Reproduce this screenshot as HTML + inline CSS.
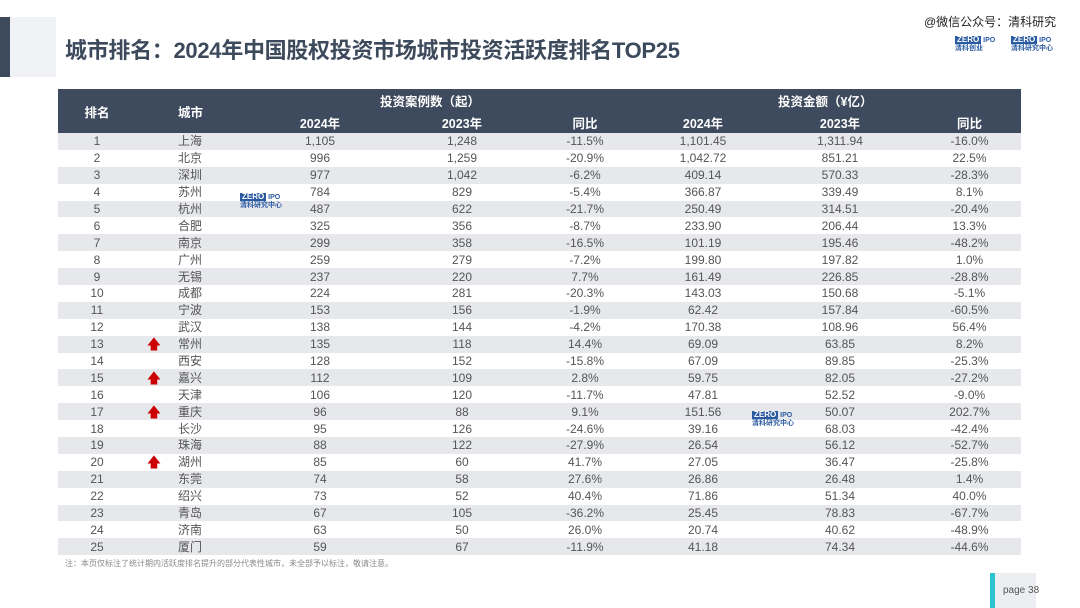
<!DOCTYPE html>
<html><head><meta charset="utf-8"><style>
body{margin:0;width:1080px;height:608px;background:#fff;position:relative;overflow:hidden;font-family:"Liberation Sans","Noto Sans CJK SC",sans-serif;}
.abs{position:absolute}
table{position:absolute;left:58px;top:89px;width:963px;border-collapse:collapse;table-layout:fixed}
td{height:16.9px;padding:0;font-size:12px;color:#555;text-align:center;line-height:16px}
tr.o td{background:#e6e8ec}
th{background:#3e4a5d;color:#fff;font-size:12.5px;font-weight:bold;padding:0;height:22px}
.up{color:#c00;font-size:14px}
.logo{position:absolute;font-size:7px;color:#2a5aa0;line-height:8px;font-weight:bold}
.logo b{display:inline-block;background:#2a5aa0;color:#fff;padding:0 2px;font-size:8px}
</style></head><body>
<div class="abs" style="left:0;top:17px;width:10px;height:60px;background:#3d4a5c"></div>
<div class="abs" style="left:10px;top:17px;width:46px;height:60px;background:#f1f2f5"></div>
<div class="abs" style="left:65px;top:33px;font-size:22px;font-weight:bold;color:#3d4a5c;letter-spacing:-0.3px">城市排名：2024年中国股权投资市场城市投资活跃度排名TOP25</div>
<div class="abs" style="left:924px;top:13px;font-size:12px;color:#222">@微信公众号：清科研究</div>
<div class="logo" style="left:955px;top:36px"><b>ZERO</b> IPO<br>清科创业</div>
<div class="logo" style="left:1011px;top:36px"><b>ZERO</b> IPO<br>清科研究中心</div>
<table>
<colgroup><col style="width:78px"><col style="width:106px"><col style="width:156px"><col style="width:128px"><col style="width:118px"><col style="width:118px"><col style="width:156px"><col style="width:103px"></colgroup>
<tr><th rowspan="2">排名</th><th rowspan="2" style="text-align:left;padding-left:42px">城市</th><th colspan="3" style="text-align:left;padding-left:138px">投资案例数（起）</th><th colspan="3" style="text-align:left;padding-left:134px">投资金额（¥亿）</th></tr>
<tr><th>2024年</th><th>2023年</th><th>同比</th><th>2024年</th><th>2023年</th><th>同比</th></tr>
</table>
<table id="b" style="top:133px"></table>
<div class="abs" style="left:65px;top:558px;font-size:8px;color:#888">注：本页仅标注了统计期内活跃度排名提升的部分代表性城市，未全部予以标注，敬请注意。</div>
<div class="logo" style="left:240px;top:193px"><b>ZERO</b> IPO<br>清科研究中心</div>
<div class="logo" style="left:752px;top:411px"><b>ZERO</b> IPO<br>清科研究中心</div>
<div class="abs" style="left:990px;top:573px;width:46px;height:35px;background:#eceef1"></div>
<div class="abs" style="left:990px;top:573px;width:5px;height:35px;background:#2cc3cc"></div>
<div class="abs" style="left:1003px;top:585px;font-size:10px;color:#555">page 38</div>
<script>
var d=`上海,1105,1248,-11.5%,1101.45,1311.94,-16.0%
北京,996,1259,-20.9%,1042.72,851.21,22.5%
深圳,977,1042,-6.2%,409.14,570.33,-28.3%
苏州,784,829,-5.4%,366.87,339.49,8.1%
杭州,487,622,-21.7%,250.49,314.51,-20.4%
合肥,325,356,-8.7%,233.90,206.44,13.3%
南京,299,358,-16.5%,101.19,195.46,-48.2%
广州,259,279,-7.2%,199.80,197.82,1.0%
无锡,237,220,7.7%,161.49,226.85,-28.8%
成都,224,281,-20.3%,143.03,150.68,-5.1%
宁波,153,156,-1.9%,62.42,157.84,-60.5%
武汉,138,144,-4.2%,170.38,108.96,56.4%
常州,135,118,14.4%,69.09,63.85,8.2%
西安,128,152,-15.8%,67.09,89.85,-25.3%
嘉兴,112,109,2.8%,59.75,82.05,-27.2%
天津,106,120,-11.7%,47.81,52.52,-9.0%
重庆,96,88,9.1%,151.56,50.07,202.7%
长沙,95,126,-24.6%,39.16,68.03,-42.4%
珠海,88,122,-27.9%,26.54,56.12,-52.7%
湖州,85,60,41.7%,27.05,36.47,-25.8%
东莞,74,58,27.6%,26.86,26.48,1.4%
绍兴,73,52,40.4%,71.86,51.34,40.0%
青岛,67,105,-36.2%,25.45,78.83,-67.7%
济南,63,50,26.0%,20.74,40.62,-48.9%
厦门,59,67,-11.9%,41.18,74.34,-44.6%`.split("\n");
var up=[13,15,17,20],h='<colgroup><col style="width:78px"><col style="width:36px"><col style="width:70px"><col style="width:156px"><col style="width:128px"><col style="width:118px"><col style="width:118px"><col style="width:156px"><col style="width:103px"></colgroup>';
function f(n){var s=n.split(".");s[0]=s[0].replace(/\B(?=(\d{3})+$)/g,",");return s.join(".");}
d.forEach(function(l,i){var c=l.split(","),r=i+1;h+='<tr class="'+(r%2?'o':'')+'"><td>'+r+'</td><td class="up">'+(up.indexOf(r)>=0?'🡅':'')+'</td><td style="text-align:left;padding-left:6px">'+c[0]+'</td><td>'+f(c[1])+'</td><td>'+f(c[2])+'</td><td>'+c[3]+'</td><td>'+f(c[4])+'</td><td>'+f(c[5])+'</td><td>'+c[6]+'</td></tr>';});
document.getElementById('b').innerHTML=h;
</script>
</body></html>
